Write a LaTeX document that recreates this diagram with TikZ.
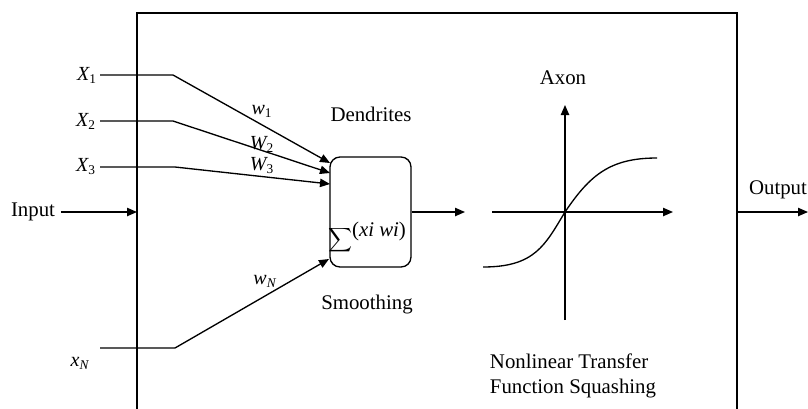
\documentclass[tikz,border=0pt]{standalone}
\usepackage{fontspec}
\setmainfont{Liberation Serif}
\usetikzlibrary{arrows.meta, positioning}

\begin{document}
\begin{tikzpicture}[
    x=0.6pt, y=-0.6pt,
    font=\fontsize{12.5}{15}\selectfont,
    wire/.style={draw=black, line width=0.8pt},
    feed/.style={wire, -{Triangle[length=6pt, width=5pt]}},
    wlabel/.style={inner sep=1pt, font=\fontsize{12}{14}\selectfont\itshape},
    soma/.style={draw, line width=0.8pt, rounded corners=6pt, minimum width=48.6pt, minimum height=66pt}
]
    \useasboundingbox (0,0) rectangle (808,408);
    \draw [wire, line width=1pt] (137,440) |- (737,13) -- (737,440);

    \node [soma] (sum) at (370.5,212) {};
    \node (sigma) at (341,240) {\fontsize{14}{16}\selectfont$\displaystyle\sum$};
    \node [inner sep=0pt] (arg) at (379,231) {(\textit{xi wi})};
    \node (dend) at (371,114) {Dendrites};
    \node (smooth) at (367,305) {Smoothing};

    \node (input) at (33,212) {Input};
    \coordinate (inEnd) at (137,212);
    \draw [feed] (input) -- (inEnd);

    \node [wlabel] (x1) at (87,75) {X\textsubscript{\upshape 1}};
    \node [wlabel] (x2) at (86,121) {X\textsubscript{\upshape 2}};
    \node [wlabel] (x3) at (86,167) {X\textsubscript{\upshape 3}};
    \node [wlabel] (xn) at (80,363) {x\textsubscript{N}};
    \coordinate (s1) at (100,75);
    \coordinate (s2) at (100,121);
    \coordinate (s3) at (100,167);
    \coordinate (sn) at (100,348);
    \coordinate (k1) at (173,75);
    \coordinate (k2) at (173,121);
    \coordinate (k3) at (175,167);
    \coordinate (kn) at (175,348);
    \coordinate (t1) at (330,163);
    \coordinate (t2) at (330,173);
    \coordinate (t3) at (330,184);
    \coordinate (tn) at (329,259);
    \draw [feed] (s1) -- (k1) -- (t1);
    \draw [feed] (s2) -- (k2) -- (t2);
    \draw [feed] (s3) -- (k3) -- (t3);
    \draw [feed] (sn) -- (kn) -- (tn);
    \node [wlabel] (w1) at (262,111) {w\textsubscript{\upshape 1}};
    \node [wlabel] (w2) at (262,144) {W\textsubscript{\upshape 2}};
    \node [wlabel] (w3) at (262,166) {W\textsubscript{\upshape 3}};
    \node [wlabel] (wn) at (265,281) {w\textsubscript{N}};

    \coordinate (axIn) at (465,212);
    \draw [feed] (sum.east) -- (axIn);

    \coordinate (hL) at (492,212);
    \coordinate (hR) at (673,212);
    \coordinate (vB) at (565,320);
    \coordinate (vT) at (565,105);
    \coordinate (o) at (565,212);
    \draw [feed] (hL) -- (hR);
    \draw [feed] (vB) -- (vT);
    \draw [wire] (483,267) .. controls (535,267) and (545,245) .. (o) .. controls (590,175) and (610,158) .. (657,158);
    \node (axon) at (563,78) {Axon};
    \node [align=left] (squash) at (573,376) {Nonlinear Transfer\\Function Squashing};

    \node (output) at (778,190) {Output};
    \coordinate (outS) at (737,212);
    \coordinate (outE) at (808,212);
    \draw [feed] (outS) -- (outE);
\end{tikzpicture}
\end{document}
